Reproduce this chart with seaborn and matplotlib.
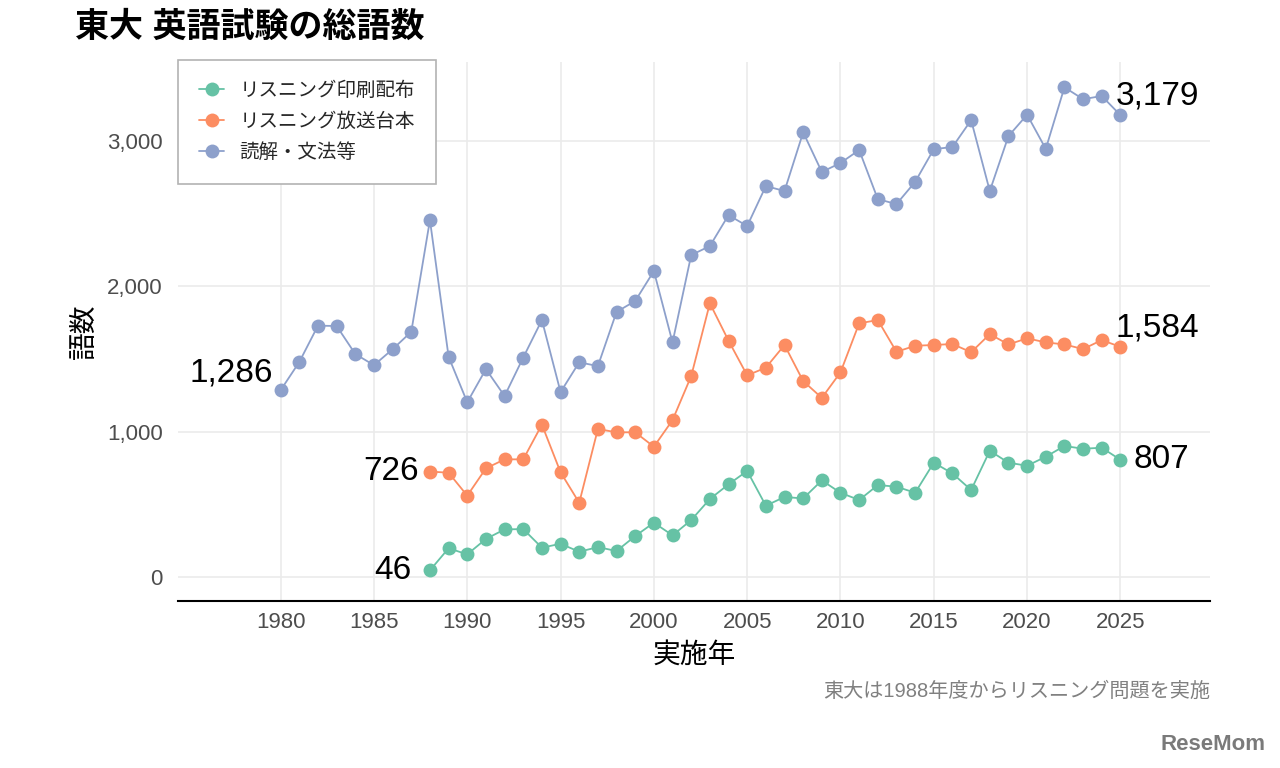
import matplotlib
matplotlib.use("Agg")
import matplotlib.pyplot as plt
import matplotlib.ticker as mticker
import seaborn as sns
import pandas as pd

# ---- data ----
years_reading = list(range(1980, 2026))
reading = [1286, 1480, 1730, 1728, 1535, 1458, 1568, 1688, 2457, 1516,
           1203, 1431, 1246, 1511, 1769, 1273, 1478, 1452, 1825, 1900,
           2106, 1615, 2216, 2278, 2491, 2416, 2691, 2657, 3061, 2788,
           2850, 2939, 2601, 2567, 2720, 2945, 2960, 3145, 2657, 3035,
           3182, 2947, 3371, 3289, 3311, 3179]

years_listen = list(range(1988, 2026))
script = [726, 718, 560, 748, 810, 810, 1049, 721, 511, 1019,
          996, 996, 897, 1080, 1383, 1884, 1627, 1388, 1441, 1597,
          1349, 1233, 1409, 1746, 1769, 1550, 1592, 1597, 1604, 1547,
          1672, 1601, 1643, 1615, 1601, 1569, 1631, 1584]
printed = [46, 198, 156, 262, 328, 330, 202, 229, 174, 206,
           179, 282, 374, 287, 392, 537, 638, 730, 491, 551,
           541, 665, 580, 530, 633, 622, 580, 787, 713, 599,
           869, 787, 766, 828, 902, 883, 890, 807]

series_names = ["リスニング印刷配布", "リスニング放送台本", "読解・文法等"]
colors = ["#66c2a5", "#fc8d62", "#8da0cb"]

x_ticks = [1980, 1985, 1990, 1995, 2000, 2005, 2010, 2015, 2020, 2025]
y_ticks = [0, 1000, 2000, 3000]

title = "東大 英語試験の総語数"
xlabel = "実施年"
ylabel = "語数"
caption = "東大は1988年度からリスニング問題を実施"

df = pd.concat([
    pd.DataFrame({"year": years_listen, "words": printed, "series": series_names[0]}),
    pd.DataFrame({"year": years_listen, "words": script, "series": series_names[1]}),
    pd.DataFrame({"year": years_reading, "words": reading, "series": series_names[2]}),
], ignore_index=True)

# ---- style ----
sns.set_theme(style="white")
plt.rcParams["font.family"] = ["Liberation Sans", "Noto Sans CJK JP", "DejaVu Sans"]

fig = plt.figure(figsize=(12.8, 7.68), dpi=100)
ax = fig.add_axes([178 / 1280, 1 - 601 / 768, (1210 - 178) / 1280, (601 - 62) / 768])

sns.lineplot(data=df, x="year", y="words", hue="series", hue_order=series_names,
             palette=colors, marker="o", markersize=10, markeredgewidth=0,
             linewidth=1.3, ax=ax, legend=True, zorder=3)

ax.set_xlim(1974.5, 2029.8)
ax.set_ylim(-165, 3545)
ax.set_xticks(x_ticks)
ax.set_yticks(y_ticks)
ax.yaxis.set_major_formatter(mticker.FuncFormatter(lambda v, p: f"{int(v):,}"))
ax.grid(True, color="#ebebeb", linewidth=1.2)
ax.set_axisbelow(True)
for s in ["left", "top", "right"]:
    ax.spines[s].set_visible(False)
ax.spines["bottom"].set_color("black")
ax.spines["bottom"].set_linewidth(1.5)
ax.tick_params(axis="both", length=0, labelsize=16, labelcolor="#4d4d4d")
ax.tick_params(axis="y", pad=11)
ax.tick_params(axis="x", pad=8)

ax.set_xlabel(xlabel, fontsize=20, color="black")
ax.set_ylabel(ylabel, fontsize=20, color="black")
ax.xaxis.set_label_coords(0.5, -0.077)
ax.yaxis.set_label_coords(-0.078, 0.5)

leg = ax.legend(loc="upper left", bbox_to_anchor=(0.0, 1.004), borderaxespad=0,
                fontsize=14, frameon=True, fancybox=False, edgecolor="#b3b3b3",
                handlelength=1.25, handletextpad=0.8, borderpad=1.1, labelspacing=0.65,
                title=None)
leg.get_frame().set_linewidth(1.2)
leg.get_frame().set_facecolor("white")
leg.get_frame().set_alpha(1)

# ---- end labels ----
ann = [
    (years_reading[0], reading[0], -8, 17, "right"),
    (years_listen[0], script[0], -11, 0, "right"),
    (years_listen[0], printed[0], -18, 0, "right"),
    (years_listen[-1], printed[-1], 13, 0, "left"),
    (years_listen[-1], script[-1], -5, 19, "left"),
    (years_reading[-1], reading[-1], -5, 19, "left"),
]
for xv, yv, dx, dy, ha in ann:
    ax.annotate(f"{yv:,}", xy=(xv, yv), xytext=(dx, dy), textcoords="offset pixels",
                ha=ha, va="center", fontsize=24, color="black", zorder=5)

fig.text(75 / 1280, 1 - 28 / 768, title, fontsize=24.5, fontweight="bold",
         ha="left", va="center", color="black")
fig.text(1210 / 1280, 1 - 691 / 768, caption, fontsize=14.5, ha="right",
         va="center", color="#808080")
fig.text(1266 / 1280, 1 - 745 / 768, "ReseMom", fontsize=16, fontweight="bold",
         ha="right", va="center", color="#7a7a7a")

fig.savefig("out.png", dpi=100, facecolor="white")
